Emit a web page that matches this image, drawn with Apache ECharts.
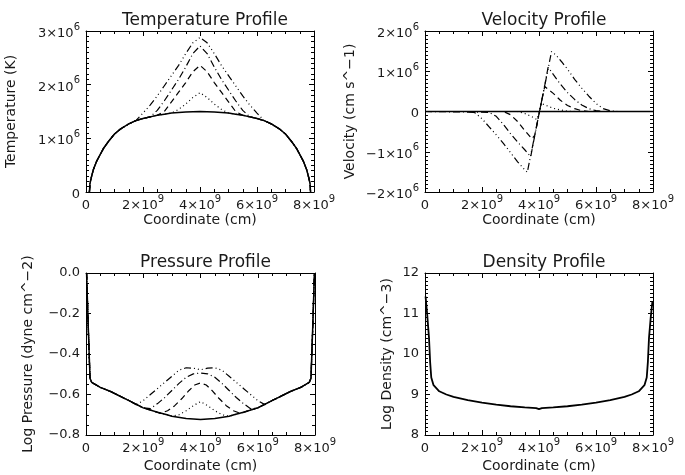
<!DOCTYPE html>
<html><head><meta charset="utf-8">
<script src="https://cdn.jsdelivr.net/npm/echarts@6/dist/echarts.min.js"></script>
<style>html,body{margin:0;padding:0;background:#fff}#c{width:685px;height:475px}</style>
</head><body><div id="c"></div>
<script>
// ---------- DATA (coordinate in units of 1e9 cm) ----------
const panelTitles = ['Temperature Profile', 'Velocity Profile', 'Pressure Profile', 'Density Profile'];
const yTitles = ['Temperature (K)', 'Velocity (cm s^\u22121)', 'Log Pressure (dyne cm^\u22122)', 'Log Density (cm^\u22123)'];
const xTitle = 'Coordinate (cm)';

// Temperature (units of 1e6 K)
const coordTemp = [0.12,0.14,0.2,0.26,0.37,0.5,0.61,0.8,1.0,1.2,1.5,1.75,2.0,2.25,2.5,2.75,3.0,3.25,3.5,3.75,4.0,4.25,4.5,4.75,5.0,5.25,5.5,5.75,6.0,6.25,6.5,6.8,7.0,7.2,7.39,7.5,7.63,7.74,7.8,7.86,7.88];
const tempSolid = [0,0.16,0.30,0.42,0.57,0.70,0.81,0.95,1.08,1.17,1.27,1.33,1.37,1.40,1.43,1.45,1.47,1.48,1.49,1.495,1.50,1.495,1.49,1.48,1.47,1.45,1.43,1.40,1.37,1.33,1.27,1.17,1.08,0.95,0.81,0.70,0.57,0.42,0.30,0.16,0];
const coordTempDot = [3.0,3.25,3.5,3.75,4.0,4.25,4.5,4.75,5.0];
const tempDot      = [1.47,1.54,1.64,1.76,1.85,1.76,1.64,1.54,1.47];
const coordTempDash = [2.5,2.75,3.0,3.25,3.5,3.75,4.0,4.25,4.5,4.75,5.0,5.25,5.5];
const tempDash      = [1.43,1.50,1.68,1.86,2.04,2.24,2.36,2.24,2.04,1.86,1.68,1.50,1.43];
const coordTempDD = [2.25,2.5,2.75,3.0,3.25,3.5,3.75,4.0,4.25,4.5,4.75,5.0,5.25,5.5,5.75];
const tempDD      = [1.40,1.52,1.70,1.90,2.10,2.33,2.58,2.72,2.58,2.33,2.10,1.90,1.70,1.52,1.40];
const coordTempDDD = [1.75,2.0,2.25,2.5,2.75,3.0,3.25,3.5,3.75,4.0,4.25,4.5,4.75,5.0,5.25,5.5,5.75,6.0,6.25];
const tempDDD      = [1.33,1.47,1.62,1.79,1.98,2.17,2.36,2.58,2.78,2.88,2.78,2.58,2.36,2.17,1.98,1.79,1.62,1.47,1.33];

// Velocity (units of 1e6 cm/s)
const coordVelSolid = [0,8];
const velSolid = [0,0];
const coordVelDot = [0,3.25,3.5,3.75,3.92,4.0,4.08,4.25,4.5,4.75,5.0,5.25,8];
const velDot      = [0,0,-0.05,-0.13,-0.2,-0.06,0.2,0.15,0.08,0.04,0.01,0,0];
const coordVelDash = [0,2.75,3.0,3.25,3.5,3.75,3.85,3.9,4.0,4.1,4.2,4.27,4.5,4.75,5.0,5.25,5.5,5.75,8];
const velDash      = [0,0,-0.08,-0.25,-0.47,-0.68,-0.59,-0.42,-0.06,0.29,0.62,0.64,0.45,0.28,0.15,0.07,0.02,0,0];
const coordVelDD = [0,2.25,2.5,2.75,3.0,3.25,3.5,3.71,3.75,3.9,4.0,4.1,4.2,4.28,4.32,4.5,4.75,5.0,5.25,5.5,5.75,6.0,6.25,8];
const velDD      = [0,-0.02,-0.12,-0.32,-0.55,-0.76,-0.95,-1.12,-0.97,-0.42,-0.06,0.29,0.64,0.95,1.1,0.92,0.68,0.47,0.30,0.16,0.07,0.02,0,0];
const coordVelDDD = [0,1.5,1.75,2.0,2.25,2.5,2.75,3.0,3.25,3.5,3.59,3.7,3.8,3.9,4.0,4.1,4.2,4.3,4.44,4.6,4.8,5.0,5.25,5.5,5.75,6.0,6.25,6.5,6.75,8];
const velDDD      = [0,0,-0.03,-0.18,-0.38,-0.58,-0.79,-1.02,-1.25,-1.45,-1.51,-1.12,-0.77,-0.42,-0.06,0.29,0.64,0.99,1.49,1.40,1.23,1.05,0.80,0.58,0.38,0.2,0.07,0.02,0,0];

// Log pressure
const coordPres = [0.02,0.08,0.14,0.2,0.5,0.84,1.0,1.5,2.0,2.5,2.83,3.0,3.5,4.0,4.5,5.0,5.17,5.5,6.0,6.5,7.0,7.16,7.5,7.8,7.86,7.92,7.98];
const presSolid = [0.0,-0.27,-0.52,-0.54,-0.565,-0.584,-0.595,-0.63,-0.666,-0.688,-0.70,-0.707,-0.718,-0.723,-0.718,-0.707,-0.70,-0.688,-0.666,-0.63,-0.595,-0.584,-0.565,-0.54,-0.52,-0.27,0.0];
const coordPresDot = [3.0,3.25,3.5,3.75,4.0,4.25,4.5,4.75,5.0];
const presDot      = [-0.707,-0.70,-0.68,-0.655,-0.635,-0.655,-0.68,-0.70,-0.707];
const coordPresDash = [2.6,2.85,3.1,3.35,3.6,3.8,4.0,4.2,4.4,4.65,4.9,5.15,5.4];
const presDash      = [-0.693,-0.68,-0.655,-0.62,-0.58,-0.553,-0.543,-0.553,-0.58,-0.62,-0.655,-0.68,-0.693];
const coordPresDD = [2.25,2.5,2.75,3.0,3.25,3.5,3.75,4.0,4.25,4.5,4.75,5.0,5.25,5.5,5.75];
const presDD      = [-0.67,-0.645,-0.615,-0.58,-0.545,-0.515,-0.498,-0.494,-0.498,-0.515,-0.545,-0.58,-0.615,-0.645,-0.67];
const coordPresDDD = [1.75,2.0,2.25,2.5,2.75,3.0,3.25,3.5,3.75,4.0,4.25,4.5,4.75,5.0,5.25,5.5,5.75,6.0,6.25];
const presDDD      = [-0.65,-0.63,-0.60,-0.57,-0.54,-0.51,-0.48,-0.468,-0.47,-0.478,-0.47,-0.468,-0.48,-0.51,-0.54,-0.57,-0.60,-0.63,-0.65];

// Log density
const coordDens = [0.02,0.08,0.14,0.18,0.22,0.3,0.5,0.75,1.0,1.5,2.0,2.5,3.0,3.5,3.9,4.0,4.1,4.5,5.0,5.5,6.0,6.5,7.0,7.25,7.5,7.7,7.78,7.82,7.86,7.92,7.98];
const densSolid = [11.42,10.95,10.4,9.8,9.42,9.23,9.08,9.0,8.94,8.86,8.8,8.75,8.71,8.68,8.665,8.64,8.665,8.68,8.71,8.75,8.8,8.86,8.94,9.0,9.08,9.23,9.42,9.8,10.4,10.9,11.3];

// ---------- HELPERS ----------
const FONT = 'DejaVu Sans';
const TXT = '#1a1a1a';
function pts(xs, ys) { return xs.map((x, i) => [x, ys[i]]); }
function withBase(bx, by, xs, ys) {
  const lo = xs[0], hi = xs[xs.length - 1];
  const base = pts(bx, by);
  return base.filter(p => p[0] < lo).concat(pts(xs, ys), base.filter(p => p[0] > hi));
}
const STYLES = {
  solid: { type: 'solid', width: 1.5 },
  dot: { type: [1, 3], width: 1.2 },
  dash: { type: [6, 4], width: 1.2 },
  dd: { type: [7, 3, 1, 3], width: 1.2 },
  ddd: { type: [7, 3, 1, 3, 1, 3, 1, 3], width: 1.2 }
};
function line(g, data, st) {
  return { type: 'line', xAxisIndex: 2 * g, yAxisIndex: 2 * g, data: data, showSymbol: false, symbol: 'none',
    animation: false, silent: true, clip: true,
    lineStyle: { color: '#000', width: STYLES[st].width, type: STYLES[st].type } };
}
const rich = {
  b: { fontFamily: FONT, fontSize: 13, color: TXT, padding: [5, 0, 0, 0] },
  s: { fontFamily: FONT, fontSize: 10, color: TXT, verticalAlign: 'top' }
};
function sci(exp) {
  return v => {
    if (Math.abs(v) < 1e-9) return '{b|0}';
    const m = Math.round(Math.abs(v));
    return '{b|' + (v < 0 ? '\u2212' : '') + m + '\u00d710}{s|' + exp + '}';
  };
}
function fixed1(v) { const s = Math.abs(v).toFixed(1); return (v < -1e-9 ? '\u2212' : '') + s; }

const grids = [
  { left: 86, top: 31, width: 228, height: 161 },
  { left: 425, top: 31, width: 228, height: 161 },
  { left: 86, top: 273, width: 229, height: 162 },
  { left: 425, top: 273, width: 228, height: 162 }
];
const yCfg = [
  { min: 0, max: 3, interval: 1, minor: 10, fmt: sci(6), gap: 68 },
  { min: -2, max: 2, interval: 1, minor: 10, fmt: sci(6), gap: 68 },
  { min: -0.8, max: 0, interval: 0.2, minor: 4, fmt: fixed1, gap: 51 },
  { min: 8, max: 12, interval: 1, minor: 10, fmt: v => String(Math.round(v)), gap: 31 }
];
const xNameGap = [17, 17, 24, 24];

const axLine = { show: true, onZero: false, lineStyle: { color: '#000', width: 1 } };
const xAxes = [], yAxes = [];
grids.forEach((gr, g) => {
  const common = { gridIndex: g, type: 'value', min: 0, max: 8, interval: 2, axisLine: axLine,
    axisTick: { show: true, inside: true, length: 5, lineStyle: { color: '#000' } },
    minorTick: { show: true, splitNumber: 4, length: 3, lineStyle: { color: '#000' } },
    splitLine: { show: false }, minorSplitLine: { show: false } };
  xAxes.push(Object.assign({}, common, { position: 'bottom',
    axisLabel: { show: true, margin: 2, formatter: sci(9), rich: rich, showMinLabel: true, showMaxLabel: true, hideOverlap: false },
    name: xTitle, nameLocation: 'middle', nameGap: xNameGap[g],
    nameTextStyle: { fontFamily: FONT, fontSize: 14, color: TXT } }));
  xAxes.push(Object.assign({}, common, { position: 'top', axisLabel: { show: false } }));
  const yc = yCfg[g];
  const ycommon = { gridIndex: g, type: 'value', min: yc.min, max: yc.max, interval: yc.interval, axisLine: axLine,
    axisTick: { show: true, inside: true, length: 5, lineStyle: { color: '#000' } },
    minorTick: { show: true, splitNumber: yc.minor, length: 3, lineStyle: { color: '#000' } },
    splitLine: { show: false }, minorSplitLine: { show: false } };
  yAxes.push(Object.assign({}, ycommon, { position: 'left',
    axisLabel: { show: true, margin: 6, formatter: yc.fmt, rich: rich, showMinLabel: true, showMaxLabel: true, hideOverlap: false,
      fontFamily: FONT, fontSize: 13, color: TXT },
    name: yTitles[g], nameLocation: 'middle', nameGap: yc.gap, nameRotate: 90,
    nameTextStyle: { fontFamily: FONT, fontSize: 14, color: TXT } }));
  yAxes.push(Object.assign({}, ycommon, { position: 'right', axisLabel: { show: false } }));
});

const series = [
  line(0, pts(coordTemp, tempSolid), 'solid'),
  line(0, withBase(coordTemp, tempSolid, coordTempDot, tempDot), 'dot'),
  line(0, withBase(coordTemp, tempSolid, coordTempDash, tempDash), 'dash'),
  line(0, withBase(coordTemp, tempSolid, coordTempDD, tempDD), 'dd'),
  line(0, withBase(coordTemp, tempSolid, coordTempDDD, tempDDD), 'ddd'),
  line(1, pts(coordVelSolid, velSolid), 'solid'),
  line(1, pts(coordVelDot, velDot), 'dot'),
  line(1, pts(coordVelDash, velDash), 'dash'),
  line(1, pts(coordVelDD, velDD), 'dd'),
  line(1, pts(coordVelDDD, velDDD), 'ddd'),
  line(2, pts(coordPres, presSolid), 'solid'),
  line(2, withBase(coordPres, presSolid, coordPresDot, presDot), 'dot'),
  line(2, withBase(coordPres, presSolid, coordPresDash, presDash), 'dash'),
  line(2, withBase(coordPres, presSolid, coordPresDD, presDD), 'dd'),
  line(2, withBase(coordPres, presSolid, coordPresDDD, presDDD), 'ddd'),
  line(3, pts(coordDens, densSolid), 'solid')
];
series[15].lineStyle.width = 1.8;

const titles = panelTitles.map((t, i) => ({
  text: t, left: grids[i].left + grids[i].width / 2, top: i < 2 ? 7 : 249, textAlign: 'center',
  textStyle: { fontFamily: FONT, fontSize: 17, fontWeight: 'normal', color: TXT }
}));

const chart = echarts.init(document.getElementById('c'), null, { renderer: 'canvas' });
chart.setOption({
  backgroundColor: '#fff',
  animation: false,
  title: titles,
  grid: grids,
  xAxis: xAxes,
  yAxis: yAxes,
  series: series
});
</script>
</body></html>
